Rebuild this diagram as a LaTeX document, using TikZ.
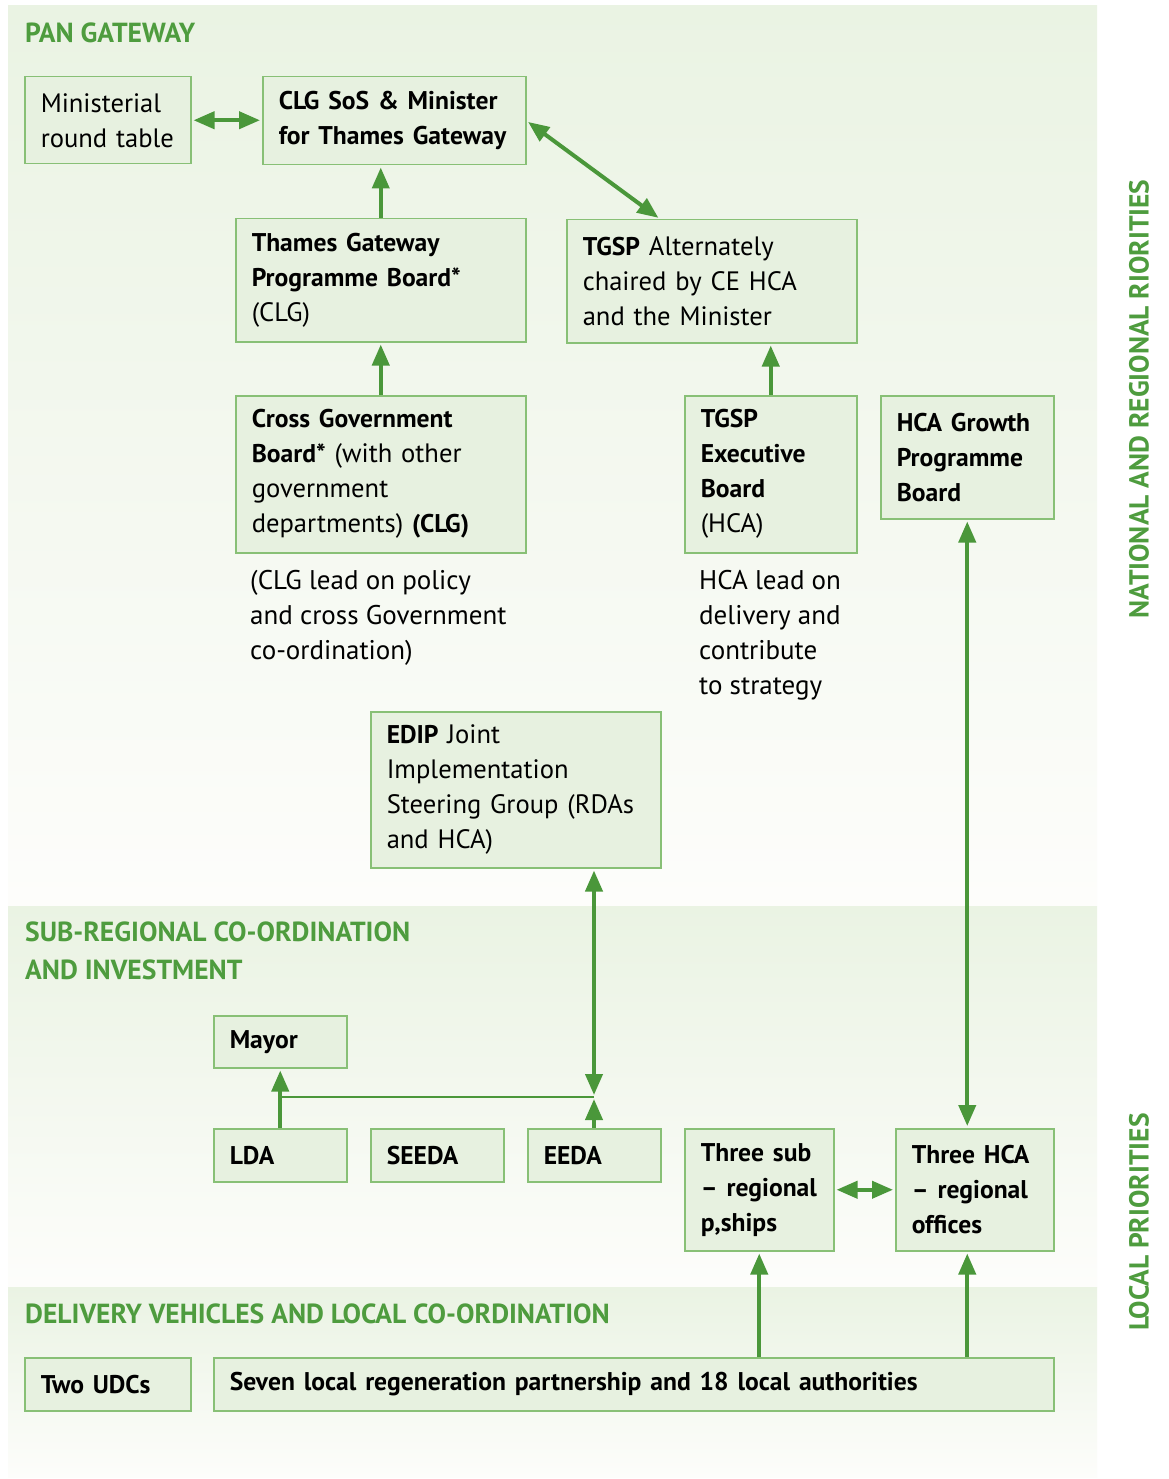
\documentclass[tikz,border=0pt]{standalone}
\usepackage{fontspec}
\setmainfont{PT Sans}
\usetikzlibrary{arrows.meta,calc}
\definecolor{gr}{HTML}{4A973A}
\definecolor{hd}{HTML}{4E9C3E}
\definecolor{bfill}{HTML}{E7F1E0}
\definecolor{bdraw}{HTML}{88C076}
\definecolor{bandtop}{HTML}{EAF3E3}
\definecolor{bandbot}{HTML}{FDFDFB}
\newcommand\bb[1]{{\fontsize{25.6}{35}\selectfont\bfseries #1}}
\newcommand\lx[1]{\mbox{#1}}
\begin{document}
\begin{tikzpicture}[x=1pt,y=-1pt,
  bx/.style 2 args={draw=bdraw, line width=1.5pt, fill=bfill, anchor=north west,
     text width=#1, minimum height=#2, inner xsep=16pt, inner ysep=0pt, align=left,
     font=\fontsize{26.6}{35}\selectfont, text=black},
  note/.style={anchor=north west, inner sep=0pt, align=left, font=\fontsize{27}{35}\selectfont},
  head/.style={anchor=base west, inner sep=0pt, text=hd, font=\fontsize{27.6}{30}\selectfont\bfseries},
  side/.style={rotate=90, inner sep=0pt, text=hd, font=\fontsize{27.5}{30}\selectfont\bfseries},
  arr/.style={draw=gr, line width=4pt, -{Triangle[length=21pt,width=17pt]}, shorten >=2pt},
  darr/.style={draw=gr, line width=4pt, {Triangle[length=21pt,width=17pt]}-{Triangle[length=21pt,width=17pt]}, shorten >=2pt, shorten <=2pt}]
\useasboundingbox (0,0) rectangle (1168,1479);
\fill[white] (0,0) rectangle (1168,1479);
% bands
\fill[top color=bandtop, bottom color=bandbot] (8,6) rectangle (1097,905);
\fill[top color=bandtop, bottom color=bandbot] (8,906) rectangle (1097,1287);
\fill[top color=bandtop, bottom color=bandbot] (8,1287) rectangle (1097,1477);
% headings
\node[head] (h1) at (25,43) {PAN GATEWAY};
\node[head] (h2) at (25,941) {SUB-REGIONAL CO-ORDINATION};
\node[head] (h3) at (25,979) {AND INVESTMENT};
\node[head] (h4) at (25,1323) {DELIVERY VEHICLES AND LOCAL CO-ORDINATION};
\node[side] (s1) at (1139,399) {NATIONAL AND REGIONAL RIORITIES};
\node[side] (s2) at (1139,1222) {LOCAL PRIORITIES};
% boxes
\node[bx={134pt}{87pt}] (mrt) at (24,76) {\lx{Ministerial}\\\lx{round table}};
\node[bx={231pt}{88pt}] (clg) at (262,76) {\lx{\bb{CLG SoS \& Minister}}\\\lx{\bb{for Thames Gateway}}};
\node[bx={258pt}{123pt}] (tgpb) at (235,218) {\lx{\bb{Thames Gateway}}\\\lx{\bb{Programme Board*}}\\(CLG)};
\node[bx={258pt}{123pt}] (tgsp) at (566,219) {\lx{\bb{TGSP} Alternately}\\\lx{chaired by CE HCA}\\\lx{and the Minister}};
\node[bx={258pt}{157pt}] (cgb) at (235,395) {\lx{\bb{Cross Government}}\\\lx{\bb{Board*} (with other}\\government\\\lx{departments) \bb{(CLG)}}};
\node[bx={140pt}{157pt}] (tgspe) at (684,395) {\bb{TGSP}\\\bb{Executive}\\\bb{Board}\\(HCA)};
\node[bx={141pt}{123pt}] (hcag) at (880,395) {\lx{\bb{HCA Growth}}\\\lx{\bb{Programme}}\\\bb{Board}};
\node[note] (cgbnote) at (250,570) {(CLG lead on policy\\and cross Government\\co-ordination)};
\node[note] (tgspenote) at (699,570) {HCA lead on\\delivery and\\contribute\\to strategy};
\node[bx={258pt}{156pt}] (edip) at (370,711) {\lx{\bb{EDIP} Joint}\\\lx{Implementation}\\\lx{Steering Group (RDAs}\\\lx{and HCA)}};
\node[bx={101pt}{52pt}] (mayor) at (213,1015) {\bb{Mayor}};
\node[bx={101pt}{53pt}] (lda) at (213,1128) {\bb{LDA}};
\node[bx={101pt}{53pt}] (seeda) at (370,1128) {\bb{SEEDA}};
\node[bx={101pt}{53pt}] (eeda) at (527,1128) {\bb{EEDA}};
\node[bx={117pt}{122pt}] (subr) at (684,1128) {\lx{\bb{Three sub}}\\\lx{\bb{– regional}}\\\lx{\bb{p,ships}}};
\node[bx={126pt}{122pt}] (hcar) at (895,1128) {\lx{\bb{Three HCA}}\\\lx{\bb{– regional}}\\\lx{\bb{offices}}};
\node[bx={134pt}{53pt}] (udc) at (24,1357) {\lx{\bb{Two UDCs}}};
\node[bx={808pt}{53pt}] (seven) at (213,1357) {\lx{\bb{Seven local regeneration partnership and 18 local authorities}}};
% connectors
\draw[darr] (mrt.east) -- (mrt.east -| clg.west);
\draw[darr] (clg.east) -- ($(tgsp.north west)+(94,0)$);
\draw[arr] (tgpb.north) -- (tgpb.north |- clg.south);
\draw[arr] (cgb.north) -- (tgpb.south);
\draw[arr] (tgspe.north) -- (tgspe.north |- tgsp.south);
\coordinate (junc) at (594,1097);
\draw[darr] (edip.south -| junc) -- (junc);
\draw[draw=gr, line width=1.5pt] (lda.north |- junc) -- (junc);
\draw[arr] (lda.north) -- (mayor.south);
\draw[arr] (eeda.north -| junc) -- (junc);
\draw[darr] (hcag.south) -- (hcag.south |- hcar.north);
\draw[darr] (subr.east) -- (hcar.west);
\draw[arr] (seven.north -| subr.south) -- (subr.south);
\draw[arr] (seven.north -| hcag.south) -- (hcar.south -| hcag.south);
\end{tikzpicture}
\end{document}
